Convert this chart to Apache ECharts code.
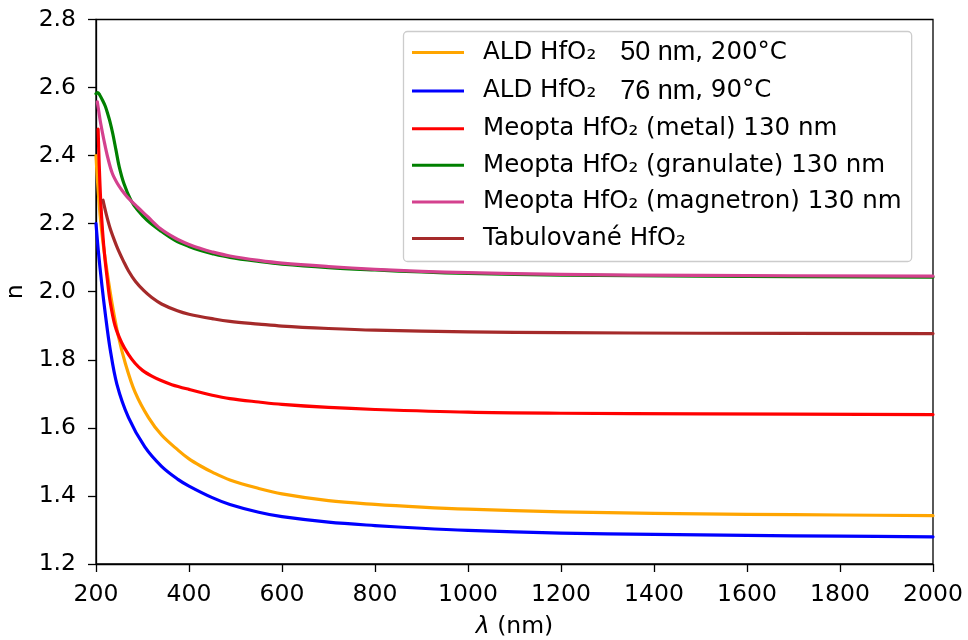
<!DOCTYPE html>
<html>
<head>
<meta charset="utf-8">
<script src="https://cdn.jsdelivr.net/npm/echarts@6/dist/echarts.min.js"></script>
<style>
html,body{margin:0;padding:0;background:#fff;}
#chart{width:968px;height:640px;}
</style>
</head>
<body>
<div id="chart"></div>
<script>
// ---- data (wavelength in nm, refractive index n) ----
const ald50Lam = [200, 203, 207, 212, 221, 234, 248, 263, 284, 313, 341, 377, 400, 425, 450, 488, 550, 600, 700, 800, 900, 1000, 1200, 1400, 1600, 1800, 2000];
const ald50N   = [2.40, 2.33, 2.255, 2.18, 2.085, 1.970, 1.870, 1.790, 1.705, 1.630, 1.579, 1.534, 1.509, 1.488, 1.470, 1.447, 1.422, 1.406, 1.386, 1.375, 1.367, 1.361, 1.353, 1.349, 1.346, 1.344, 1.342];

const ald76Lam = [200, 205, 212.6, 220, 230, 245, 270, 305, 341, 377, 400, 450, 488, 550, 600, 700, 800, 900, 1000, 1200, 1400, 1600, 1800, 2000];
const ald76N   = [2.20, 2.12, 2.02, 1.935, 1.835, 1.728, 1.630, 1.544, 1.487, 1.448, 1.429, 1.395, 1.375, 1.352, 1.339, 1.323, 1.313, 1.305, 1.299, 1.291, 1.287, 1.284, 1.282, 1.280];

const metalLam = [204.5, 207, 210, 214, 219, 224, 230, 241, 255, 270, 284, 300, 320, 340, 363, 400, 450, 488, 550, 600, 700, 800, 1000, 1200, 1500, 2000];
const metalN   = [2.478, 2.37, 2.27, 2.18, 2.10, 2.04, 1.975, 1.900, 1.851, 1.815, 1.790, 1.769, 1.752, 1.739, 1.727, 1.713, 1.696, 1.686, 1.676, 1.669, 1.660, 1.654, 1.646, 1.643, 1.641, 1.639];

const granLam = [200, 204, 208, 215, 220, 225, 230, 236, 243, 250, 260, 275, 289, 310, 339, 370, 400, 425, 450, 488, 550, 600, 700, 800, 900, 1000, 1200, 1500, 2000];
const granN   = [2.582, 2.585, 2.578, 2.560, 2.545, 2.524, 2.500, 2.465, 2.416, 2.367, 2.318, 2.269, 2.241, 2.210, 2.179, 2.151, 2.133, 2.121, 2.112, 2.101, 2.089, 2.081, 2.071, 2.064, 2.058, 2.054, 2.049, 2.046, 2.043];

const magLam = [202.8, 206, 210, 217, 225, 235, 246, 257, 267, 289, 310, 339, 370, 400, 425, 450, 488, 550, 600, 700, 800, 900, 1000, 1200, 1500, 2000];
const magN   = [2.558, 2.530, 2.495, 2.446, 2.396, 2.348, 2.318, 2.296, 2.279, 2.249, 2.222, 2.185, 2.158, 2.139, 2.127, 2.117, 2.105, 2.092, 2.084, 2.074, 2.066, 2.060, 2.056, 2.051, 2.048, 2.046];

const tabLam = [215, 222, 230, 239, 248, 259, 270, 285, 303, 320, 341, 375, 400, 454, 488, 550, 600, 700, 800, 1000, 1200, 1500, 2000];
const tabN   = [2.269, 2.228, 2.188, 2.153, 2.122, 2.090, 2.061, 2.030, 2.003, 1.983, 1.964, 1.944, 1.934, 1.920, 1.913, 1.905, 1.899, 1.892, 1.887, 1.882, 1.880, 1.878, 1.877];

const xTicks = [200, 400, 600, 800, 1000, 1200, 1400, 1600, 1800, 2000];
const yTicks = [1.2, 1.4, 1.6, 1.8, 2.0, 2.2, 2.4, 2.6, 2.8];

const seriesNames = [
  'ALD HfO₂ 50 nm, 200°C',
  'ALD HfO₂ 76 nm, 90°C',
  'Meopta HfO₂ (metal) 130 nm',
  'Meopta HfO₂ (granulate) 130 nm',
  'Meopta HfO₂ (magnetron) 130 nm',
  'Tabulované HfO₂'
];
const legendLabels = [
  '{t|ALD HfO₂}{b|50 nm}{t|, 200°C}',
  '{t|ALD HfO₂}{b|76 nm}{t|, 90°C}',
  '{t|Meopta HfO₂ (metal) 130 nm}',
  '{t|Meopta HfO₂ (granulate) 130 nm}',
  '{t|Meopta HfO₂ (magnetron) 130 nm}',
  '{t|Tabulované HfO₂}'
];
const colors = ['#FFA500', '#0000FF', '#FF0000', '#008000', '#D4418E', '#A52A2A'];
const lamArrays = [ald50Lam, ald76Lam, metalLam, granLam, magLam, tabLam];
const nArrays = [ald50N, ald76N, metalN, granN, magN, tabN];

function zip(a, b) { return a.map((v, i) => [v, b[i]]); }

const FONT = 'DejaVu Sans';
const FS = 23.5;
const LFS = 24.5;
const ROWH = 25;

const chart = echarts.init(document.getElementById('chart'), null, {renderer: 'canvas'});
const option = {
  animation: false,
  backgroundColor: '#fff',
  grid: {left: 96, right: 35, top: 19.5, bottom: 76, show: true, borderColor: '#000', borderWidth: 1.3,
    backgroundColor: 'transparent', containLabel: false, outerBoundsMode: 'none'},
  xAxis: {
    type: 'value', min: xTicks[0], max: xTicks[xTicks.length - 1], interval: 200,
    axisLine: {show: true, lineStyle: {color: '#000', width: 1.3}},
    axisTick: {show: true, length: 8, lineStyle: {color: '#000', width: 1.3}},
    axisLabel: {color: '#000', fontSize: FS, fontFamily: FONT, margin: 18.5, formatter: v => String(v)},
    splitLine: {show: false},
    name: '{i|λ} (nm)', nameLocation: 'middle', nameGap: 51,
    nameTextStyle: {color: '#000', fontSize: FS, fontFamily: FONT,
      rich: {i: {fontStyle: 'italic', fontSize: FS, fontFamily: FONT, color: '#000'}}}
  },
  yAxis: {
    type: 'value', min: yTicks[0], max: yTicks[yTicks.length - 1], interval: 0.2,
    axisLine: {show: true, lineStyle: {color: '#000', width: 1.3}},
    axisTick: {show: true, length: 8, lineStyle: {color: '#000', width: 1.3}},
    axisLabel: {color: '#000', fontSize: FS, fontFamily: FONT, margin: 20, formatter: v => v.toFixed(1)},
    splitLine: {show: false},
    name: 'n', nameLocation: 'middle', nameGap: 58,
    nameTextStyle: {color: '#000', fontSize: FS, fontFamily: FONT}
  },
  legend: {
    orient: 'vertical', left: 403.5, top: 31.5,
    icon: 'rect', itemWidth: 52, itemHeight: 3, itemGap: 11.6,
    padding: [7.5, 10, 10.5, 8.5],
    backgroundColor: 'rgba(255,255,255,0.85)', borderColor: '#cccccc', borderWidth: 1.3, borderRadius: 4,
    data: seriesNames,
    formatter: name => legendLabels[seriesNames.indexOf(name)],
    textStyle: {fontSize: LFS, fontFamily: FONT, color: '#000', padding: [0, 0, 0, 14],
      rich: {
        t: {fontFamily: FONT, fontSize: LFS, color: '#000', lineHeight: ROWH, height: ROWH, verticalAlign: 'middle'},
        b: {fontFamily: 'Liberation Sans', fontSize: 27, color: '#000', lineHeight: ROWH, height: ROWH, padding: [0, 0, 0, 24], verticalAlign: 'middle'}
      }}
  },
  series: seriesNames.map((nm, i) => ({
    name: nm, type: 'line', data: zip(lamArrays[i], nArrays[i]),
    symbol: 'none', showSymbol: false, smooth: 0.35,
    lineStyle: {color: colors[i], width: 3.2, join: 'round', cap: 'round'}, itemStyle: {color: colors[i]},
    clip: true
  }))
};
chart.setOption(option);
</script>
</body>
</html>
